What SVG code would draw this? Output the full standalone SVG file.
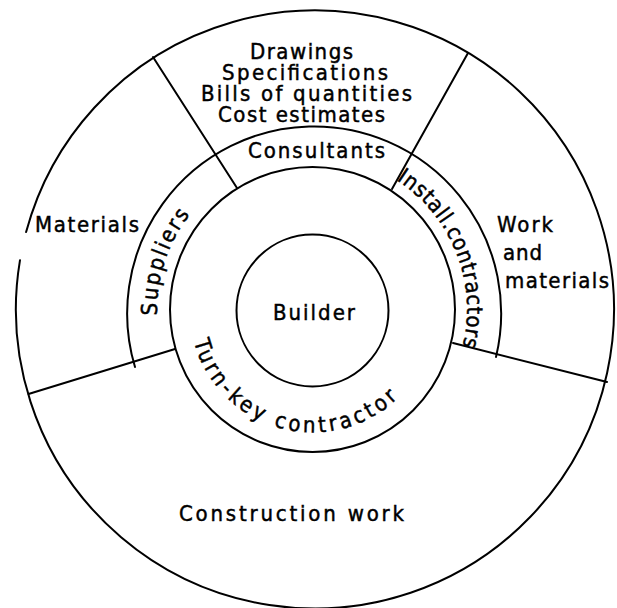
<svg xmlns="http://www.w3.org/2000/svg" xmlns:xlink="http://www.w3.org/1999/xlink" width="617" height="608" viewBox="0 0 617 608">
  <style>
    .ln { fill: none; stroke: #000; stroke-width: 2; stroke-linecap: round; }
    .tx { font-family: "DejaVu Sans Condensed", "DejaVu Sans", "Liberation Sans", sans-serif; font-size: 22px; fill: #000; stroke: #000; stroke-width: 0.45; }
  </style>
  <defs>
    <path id="pSup" d="M 159.4 336.9 A 155 155 0 0 1 212.4 191.3"/>
    <path id="pIns" d="M 377.5 169.5 A 155 155 0 0 1 452.5 375.5"/>
    <path id="pTk" d="M 190.0 320.2 A 123 123 0 0 0 428.1 351.6"/>
  </defs>
  <rect width="617" height="608" fill="#fff"/>

  <g id="outer-ring">
    <path class="ln" d="M 26.1 232.1 A 299 299 0 1 1 20.0 260.2"/>
  </g>

  <g id="connectors">
    <line class="ln" x1="153" y1="57" x2="237" y2="188"/>
    <line class="ln" x1="468" y1="53" x2="392" y2="189"/>
    <line class="ln" x1="28.5" y1="394" x2="175" y2="349"/>
    <line class="ln" x1="453" y1="343" x2="607" y2="382"/>
  </g>

  <g id="middle-ring">
    <path class="ln" d="M 135 367 A 187 187 0 1 1 496 357"/>
  </g>

  <g id="turn-key-contractor">
    <circle class="ln" cx="312.5" cy="309.5" r="142.5"/>
    <text class="tx" font-size="22"><textPath xlink:href="#pTk" startOffset="21.5" textLength="255" lengthAdjust="spacing">Turn-key contractor</textPath></text>
  </g>

  <g id="builder">
    <circle class="ln" cx="312.5" cy="310.5" r="76"/>
    <text class="tx" x="273" y="320" font-size="23" textLength="82" lengthAdjust="spacing">Builder</text>
  </g>

  <g id="suppliers">
    <text class="tx" font-size="22"><textPath xlink:href="#pSup" startOffset="21.6" textLength="108" lengthAdjust="spacing">Suppliers</textPath></text>
  </g>

  <g id="consultants">
    <text class="tx" x="248" y="158" textLength="137" lengthAdjust="spacing">Consultants</text>
  </g>

  <g id="install-contractors">
    <text class="tx" font-size="22"><textPath xlink:href="#pIns" startOffset="21.6" textLength="191" lengthAdjust="spacing">Install.contractors</textPath></text>
  </g>

  <g id="documents">
    <text class="tx" x="250" y="59" textLength="103" lengthAdjust="spacing">Drawings</text>
    <text class="tx" x="222" y="80" textLength="166" lengthAdjust="spacing">Specifications</text>
    <text class="tx" x="201" y="101" textLength="211" lengthAdjust="spacing">Bills of quantities</text>
    <text class="tx" x="218" y="122" textLength="167" lengthAdjust="spacing">Cost estimates</text>
  </g>

  <g id="materials">
    <text class="tx" x="35" y="232" textLength="104" lengthAdjust="spacing">Materials</text>
  </g>

  <g id="work-and-materials">
    <text class="tx" x="497" y="232" textLength="56" lengthAdjust="spacing">Work</text>
    <text class="tx" x="503" y="260" textLength="39" lengthAdjust="spacing">and</text>
    <text class="tx" x="505" y="288" textLength="104" lengthAdjust="spacing">materials</text>
  </g>

  <g id="construction-work">
    <text class="tx" x="179" y="521" textLength="225" lengthAdjust="spacing">Construction work</text>
  </g>
</svg>
